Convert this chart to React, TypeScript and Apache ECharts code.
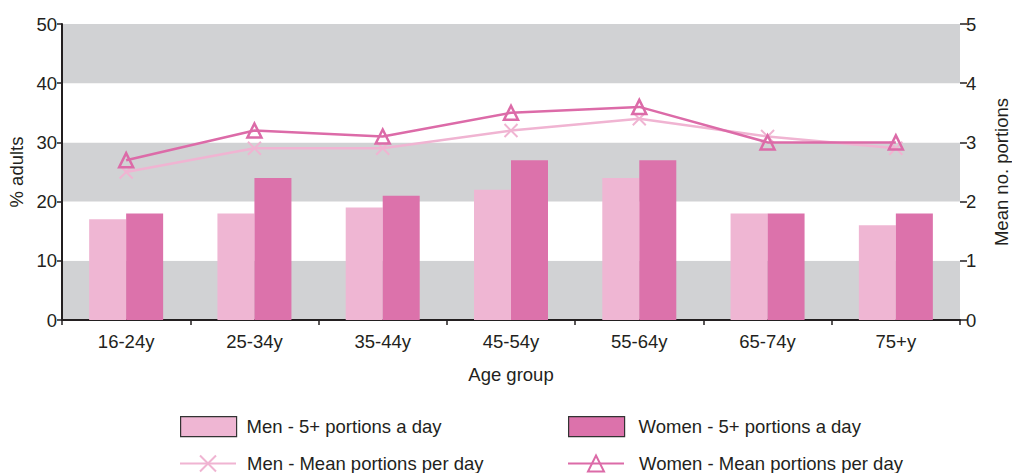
import React, { useEffect, useRef } from "react";
import * as echarts from "echarts";

const categories = ["16-24y", "25-34y", "35-44y", "45-54y", "55-64y", "65-74y", "75+y"];
const men5Plus = [17, 18, 19, 22, 24, 18, 16];
const women5Plus = [18, 24, 21, 27, 27, 18, 18];
const menMean = [2.5, 2.9, 2.9, 3.2, 3.4, 3.1, 2.9];
const womenMean = [2.7, 3.2, 3.1, 3.5, 3.6, 3.0, 3.0];

const FONT = "Liberation Sans";
const FS = 18.5;
const TXT = "#231f20";
const MEN_COLOR = "#efb6d3";
const WOMEN_COLOR = "#dc72ab";
const MEN_LINE = "#f0b4d2";
const WOMEN_LINE = "#dc6ba8";

export default function App() {
  const ref = useRef<HTMLDivElement>(null);
  useEffect(() => {
    if (!ref.current) return;
    const chart = echarts.init(ref.current, undefined, { renderer: "svg" });
    const xSymbol = "path://M0,0L10,10M10,0L0,10";
    const legendBase = {
      orient: "horizontal",
      itemWidth: 56,
      itemHeight: 20,
      padding: 0,
    };
    const legendText = (pad: number) => ({
      fontFamily: FONT,
      fontSize: FS,
      color: TXT,
      padding: [0, 0, 0, pad],
    });
    chart.setOption({
      animation: false,
      textStyle: { fontFamily: FONT, color: TXT },
      grid: {
        left: 62,
        right: 52,
        top: 24,
        bottom: 153,
        containLabel: false,
        outerBoundsMode: "none",
      },
      legend: [
        {
          ...legendBase,
          left: 180,
          top: 416,
          textStyle: legendText(5),
          data: [
            {
              name: "Men - 5+ portions a day",
              icon: "rect",
              itemStyle: { borderColor: "#333", borderWidth: 1.2 },
            },
          ],
        },
        {
          ...legendBase,
          left: 179,
          top: 454,
          textStyle: legendText(6),
          data: [{ name: "Men - Mean portions per day" }],
        },
        {
          ...legendBase,
          left: 568,
          top: 416,
          textStyle: legendText(9),
          data: [
            {
              name: "Women - 5+ portions a day",
              icon: "rect",
              itemStyle: { borderColor: "#333", borderWidth: 1.2 },
            },
          ],
        },
        {
          ...legendBase,
          left: 567,
          top: 454,
          textStyle: legendText(10),
          data: [{ name: "Women - Mean portions per day" }],
        },
      ],
      xAxis: {
        type: "category",
        data: categories,
        name: "Age group",
        nameLocation: "middle",
        nameGap: 45,
        nameTextStyle: { fontFamily: FONT, fontSize: FS, color: TXT },
        axisLine: { show: true, lineStyle: { color: "#231f20", width: 2 } },
        axisTick: { show: true, alignWithLabel: false, length: 5, lineStyle: { color: "#231f20", width: 1.5 } },
        axisLabel: { fontFamily: FONT, fontSize: FS, color: TXT, margin: 12 },
        splitLine: { show: false },
      },
      yAxis: [
        {
          type: "value",
          min: 0,
          max: 50,
          interval: 10,
          name: "% adults",
          nameLocation: "middle",
          nameGap: 35,
          nameRotate: 90,
          nameTextStyle: { fontFamily: FONT, fontSize: FS, color: TXT },
          axisLine: { show: true, lineStyle: { color: "#231f20", width: 2 } },
          axisTick: { show: true, length: 5, lineStyle: { color: "#231f20", width: 1.5 } },
          axisLabel: { fontFamily: FONT, fontSize: FS, color: TXT, margin: 5 },
          splitLine: { show: false },
          splitArea: { show: true, areaStyle: { color: ["#d1d2d4", "#ffffff"] } },
        },
        {
          type: "value",
          min: 0,
          max: 5,
          interval: 1,
          position: "right",
          name: "Mean no. portions",
          nameLocation: "middle",
          nameGap: 32,
          nameRotate: 90,
          nameTextStyle: { fontFamily: FONT, fontSize: FS, color: TXT },
          axisLine: { show: false },
          axisTick: { show: true, length: 7, lineStyle: { color: "#231f20", width: 1.5 } },
          axisLabel: { fontFamily: FONT, fontSize: FS, color: TXT, margin: 6 },
          splitLine: { show: false },
          splitArea: { show: false },
        },
      ],
      series: [
        {
          name: "Men - 5+ portions a day",
          type: "bar",
          yAxisIndex: 0,
          data: men5Plus,
          barWidth: 37,
          barGap: "0%",
          itemStyle: { color: MEN_COLOR },
        },
        {
          name: "Women - 5+ portions a day",
          type: "bar",
          yAxisIndex: 0,
          data: women5Plus,
          barWidth: 37,
          barGap: "0%",
          itemStyle: { color: WOMEN_COLOR },
        },
        {
          name: "Men - Mean portions per day",
          type: "line",
          yAxisIndex: 1,
          data: menMean,
          symbol: xSymbol,
          symbolSize: 13,
          showAllSymbol: true,
          lineStyle: { color: MEN_LINE, width: 2.5 },
          itemStyle: { color: "rgba(0,0,0,0)", borderColor: MEN_LINE, borderWidth: 2 },
          z: 3,
        },
        {
          name: "Women - Mean portions per day",
          type: "line",
          yAxisIndex: 1,
          data: womenMean,
          symbol: "triangle",
          symbolSize: 14,
          showAllSymbol: true,
          lineStyle: { color: WOMEN_LINE, width: 2.5 },
          itemStyle: { color: "rgba(0,0,0,0)", borderColor: WOMEN_LINE, borderWidth: 2.5 },
          z: 4,
        },
      ],
    });
    return () => chart.dispose();
  }, []);
  return <div ref={ref} style={{ width: 1012, height: 473, position: "absolute", left: 0, top: 0 }} />;
}
